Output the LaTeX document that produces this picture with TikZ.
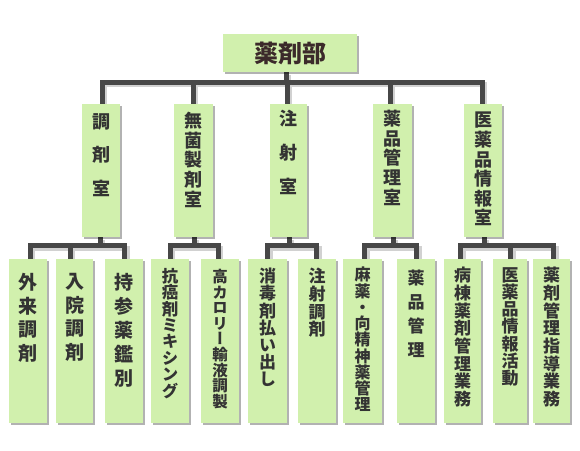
\documentclass[tikz,border=0pt]{standalone}
\usepackage{fontspec}
\newfontfamily\jp[RawFeature=+vert]{Noto Sans CJK JP}
\usetikzlibrary{shadows}
\pgfdeclarelayer{bg}
\pgfsetlayers{bg,main}
\definecolor{boxgreen}{HTML}{D1F0AD}
\definecolor{linegray}{HTML}{474747}
\definecolor{txt}{HTML}{333333}
\definecolor{toptxt}{HTML}{3B2A2A}
\newcommand\vf[2]{\jp\bfseries\fontsize{#1}{#2}\selectfont\lineskiplimit=-100pt\lineskip=0pt}
\newcommand\conn[1]{%
  \begin{scope}[transform canvas={shift={(2.5pt,-2.5pt)}}]\draw[cshadow] #1;\end{scope}%
  \draw[cline] #1;}
\tikzset{
  box/.style={fill=boxgreen, draw=none, inner sep=0pt, anchor=north west,
    drop shadow={shadow xshift=2pt, shadow yshift=-2pt, fill=black, opacity=0.3}},
  vtext/.style={inner sep=0pt, anchor=north, align=center, text=txt},
  cline/.style={draw=linegray, line width=5pt, line join=miter},
  cshadow/.style={draw=black!18, line width=5pt, line join=miter},
}
\begin{document}
\begin{tikzpicture}[x=1pt,y=-1pt]
\useasboundingbox (0,0) rectangle (580,450);

% top
\node[box, minimum width=134pt, minimum height=38pt, font=\vf{24}{24}, text=toptxt] (top) at (223,34) {薬剤部};

% level 2
\node[box, minimum width=38pt, minimum height=133pt] (b1) at (82,104) {};
\node[box, minimum width=39pt, minimum height=133pt] (b2) at (174,104) {};
\node[box, minimum width=37pt, minimum height=133pt] (b3) at (270,104) {};
\node[box, minimum width=39pt, minimum height=133pt] (b4) at (373,104) {};
\node[box, minimum width=38pt, minimum height=133pt] (b5) at (464,104) {};

\node[vtext, font=\vf{18}{33.5}, yshift=-9pt] (tb1) at (b1.north) {調\\剤\\室};
\node[vtext, font=\vf{18}{19.7}, yshift=-8pt] (tb2) at (b2.north) {無\\菌\\製\\剤\\室};
\node[vtext, font=\vf{18}{34}, yshift=-6pt] (tb3) at (b3.north) {注\\射\\室};
\node[vtext, font=\vf{18}{19.7}, yshift=-6pt] (tb4) at (b4.north) {薬\\品\\管\\理\\室};
\node[vtext, font=\vf{18}{19.6}, yshift=-8pt] (tb5) at (b5.north) {医\\薬\\品\\情\\報\\室};

% level 3
\node[box, minimum width=38pt, minimum height=164.5pt] (c1) at (9,258.5) {};
\node[box, minimum width=37pt, minimum height=164.5pt] (c2) at (56,258.5) {};
\node[box, minimum width=38pt, minimum height=164.5pt] (c3) at (105,258.5) {};
\node[box, minimum width=38pt, minimum height=164.5pt] (c4) at (151,258.5) {};
\node[box, minimum width=38pt, minimum height=164.5pt] (c5) at (201,258.5) {};
\node[box, minimum width=39pt, minimum height=164.5pt] (c6) at (248,258.5) {};
\node[box, minimum width=38pt, minimum height=164.5pt] (c7) at (298,258.5) {};
\node[box, minimum width=39pt, minimum height=164.5pt] (c8) at (343,258.5) {};
\node[box, minimum width=38pt, minimum height=164.5pt] (c9) at (397,258.5) {};
\node[box, minimum width=37pt, minimum height=164.5pt] (c10) at (444,258.5) {};
\node[box, minimum width=34pt, minimum height=164.5pt] (c11) at (493,258.5) {};
\node[box, minimum width=37pt, minimum height=164.5pt] (c12) at (533,258.5) {};

\node[vtext, font=\vf{19}{23.7}, yshift=-14.5pt] (tc1) at (c1.north) {外\\来\\調\\剤};
\node[vtext, font=\vf{19}{23.7}, yshift=-14.5pt] (tc2) at (c2.north) {入\\院\\調\\剤};
\node[vtext, font=\vf{19}{24}, yshift=-14.5pt] (tc3) at (c3.north) {持\\参\\薬\\鑑\\別};
\node[vtext, font=\vf{16.5}{16.4}, yshift=-9.5pt] (tc4) at (c4.north) {抗\\癌\\剤\\ミ\\キ\\シ\\ン\\グ};
\node[vtext, font=\vf{15.5}{15.6}, yshift=-10.5pt] (tc5) at (c5.north) {高\\カ\\ロ\\リ\\ー\\輸\\液\\調\\製};
\node[vtext, font=\vf{17}{17.2}, yshift=-9.5pt] (tc6) at (c6.north) {消\\毒\\剤\\払\\い\\出\\し};
\node[vtext, font=\vf{17}{17.7}, yshift=-9.5pt] (tc7) at (c7.north) {注\\射\\調\\剤};
\node[vtext, font=\vf{16}{16.25}, yshift=-8.5pt] (tc8) at (c8.north) {麻\\薬\\・\\向\\精\\神\\薬\\管\\理};
\node[vtext, font=\vf{17}{24}, yshift=-11.5pt] (tc9) at (c9.north) {薬\\品\\管\\理};
\node[vtext, font=\vf{17}{17.7}, yshift=-8.5pt] (tc10) at (c10.north) {病\\棟\\薬\\剤\\管\\理\\業\\務};
\node[vtext, font=\vf{17}{17.3}, yshift=-8.5pt] (tc11) at (c11.north) {医\\薬\\品\\情\\報\\活\\動};
\node[vtext, font=\vf{17}{17.7}, yshift=-8.5pt] (tc12) at (c12.north) {薬\\剤\\管\\理\\指\\導\\業\\務};

% connector points
\coordinate (s0) at (286,82);
\coordinate (p1) at (102,82);
\coordinate (p2) at (193,82);
\coordinate (p3) at (287,82);
\coordinate (p4) at (390,82);
\coordinate (p5) at (482,82);

\coordinate (g1s) at (100,245.5);
\coordinate (g1a) at (30,245.5);
\coordinate (g1b) at (70,245.5);
\coordinate (g1c) at (124.5,245.5);
\coordinate (g2s) at (194,245.5);
\coordinate (g2a) at (170,245.5);
\coordinate (g2b) at (218,245.5);
\coordinate (g3s) at (289,245.5);
\coordinate (g3a) at (267.5,245.5);
\coordinate (g3b) at (316.5,245.5);
\coordinate (g4s) at (393,245.5);
\coordinate (g4a) at (364.5,245.5);
\coordinate (g4b) at (416.5,245.5);
\coordinate (g5s) at (484,245.5);
\coordinate (g5a) at (460.5,245.5);
\coordinate (g5b) at (510.5,245.5);
\coordinate (g5c) at (553.5,245.5);

\begin{pgfonlayer}{bg}
\fill[white] (0,0) rectangle (580,450);
\conn{(s0 |- top.south) -- (s0)}
\conn{(p1 |- b1.north) -- (p1) -- (p5) -- (p5 |- b5.north)}
\conn{(p2) -- (p2 |- b2.north)}
\conn{(p3) -- (p3 |- b3.north)}
\conn{(p4) -- (p4 |- b4.north)}

\conn{(g1s |- b1.south) -- (g1s)}
\conn{(g1a |- c1.north) -- (g1a) -- (g1c) -- (g1c |- c3.north)}
\conn{(g1b) -- (g1b |- c2.north)}

\conn{(g2s |- b2.south) -- (g2s)}
\conn{(g2a |- c4.north) -- (g2a) -- (g2b) -- (g2b |- c5.north)}

\conn{(g3s |- b3.south) -- (g3s)}
\conn{(g3a |- c6.north) -- (g3a) -- (g3b) -- (g3b |- c7.north)}

\conn{(g4s |- b4.south) -- (g4s)}
\conn{(g4a |- c8.north) -- (g4a) -- (g4b) -- (g4b |- c9.north)}

\conn{(g5s |- b5.south) -- (g5s)}
\conn{(g5a |- c10.north) -- (g5a) -- (g5c) -- (g5c |- c12.north)}
\conn{(g5b) -- (g5b |- c11.north)}
\end{pgfonlayer}
\end{tikzpicture}
\end{document}
